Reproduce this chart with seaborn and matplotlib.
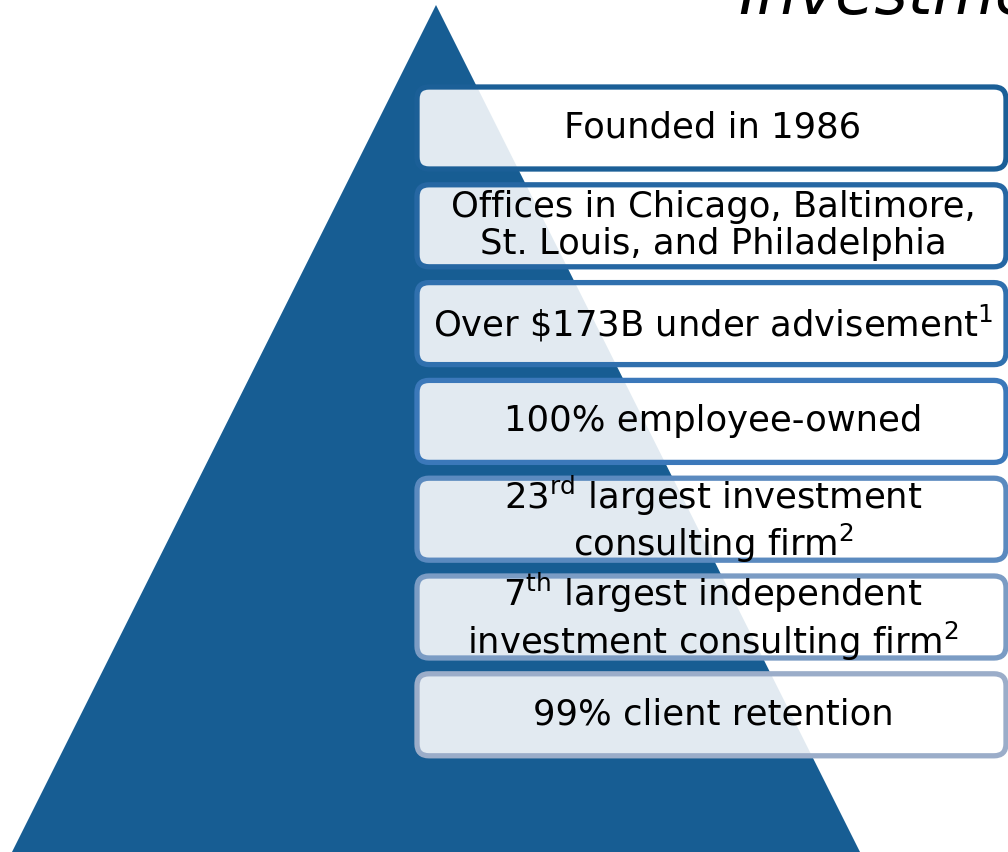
import numpy as np
import seaborn as sns
import matplotlib.pyplot as plt
from matplotlib.patches import Polygon, FancyBboxPatch

sns.set_theme(style="white")
plt.rcParams['font.family'] = ['DejaVu Sans']

# content
labels = [
    "Founded in 1986",
    "Offices in Chicago, Baltimore,\nSt. Louis, and Philadelphia",
    r"Over \$173B under advisement$^{\mathregular{1}}$",
    "100% employee-owned",
    r"23$^{\mathregular{rd}}$ largest investment" + "\n" + r"consulting firm$^{\mathregular{2}}$",
    r"7$^{\mathregular{th}}$ largest independent" + "\n" + r"investment consulting firm$^{\mathregular{2}}$",
    "99% client retention",
]
title = "Investment"

pyramid_blue = "#175d93"
edge_colors = sns.blend_palette(["#1b5f97", "#3b78ba", "#9badc9"], len(labels))

fig = plt.figure(figsize=(10.08, 8.52), dpi=100)
ax = fig.add_axes([0, 0, 1, 1])
ax.set_xlim(0, 1008)
ax.set_ylim(852, 0)
ax.axis("off")

# pyramid
ax.add_patch(Polygon([(436, 5), (12, 852), (860, 852)], closed=True,
                     facecolor=pyramid_blue, edgecolor="none", zorder=1))

# boxes
top0, step, h = 87, 97.8, 82
for i, (lab, ec) in enumerate(zip(labels, edge_colors)):
    y = top0 + i * step
    box = FancyBboxPatch((417, y), 589, h, boxstyle="round,pad=0,rounding_size=12",
                         facecolor=(1, 1, 1, 0.88), edgecolor=ec, linewidth=3.8, zorder=2)
    ax.add_patch(box)
    ax.text(713, y + h / 2, lab, ha="center", va="center", fontsize=25.5,
            color="black", linespacing=1.12, zorder=3)

ax.text(738, 14, title, fontsize=46, style="italic", color="black",
        ha="left", va="baseline", zorder=3)

fig.savefig("out.png", dpi=100)
